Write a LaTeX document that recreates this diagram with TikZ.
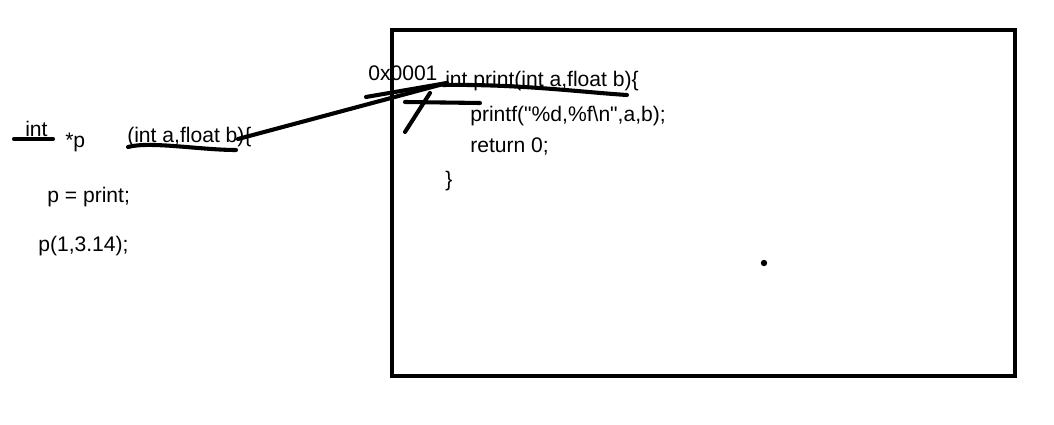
\documentclass[tikz,border=0pt]{standalone}
\usepackage{fontspec}
\setmainfont{Liberation Sans}[Ligatures=TeXOff]
\usepackage{tikz}
\usetikzlibrary{positioning,calc}
\tikzset{
  code/.style={anchor=base west, inner sep=0pt, font=\fontsize{15}{17}\selectfont},
  pen/.style={line width=2.9pt, line cap=round, line join=round, black},
  fnbox/.style={line width=2.9pt, black},
}

\begin{document}
\begin{tikzpicture}[x=0.025cm, y=-0.025cm]
\useasboundingbox (0,0) rectangle (1054,425);

% left side: the pointer declaration
\node[code] (intkw) at (25,137) {int};
\node[code] (ptr) at (65,148) {*p};
\node[code] (params) at (127,143) {(int a,float b)\{};
\node[code] (assign) at (47,203) {p = print;};
\node[code] (call) at (38,252) {p(1,3.14);};

% the function in memory
\draw[fnbox] (392,30) rectangle (1015,376);
\node[code] (addr) at (368,81) {0x0001};
\node[code] (header) at (445,87) {int print(int a,float b)\{};
\node[code] (body1) at (470,122) {printf(\symbol{34}\%d,\%f\textbackslash n\symbol{34},a,b);};
\node[code] (body2) at (470,153) {return 0;};
\node[code] (brace) at (445,187) {\}};
\fill (764,263) circle (3.2);

% hand strokes
\draw[pen] (14,139) -- (53,139);
\draw[pen] (128,147) .. controls (150,141) and (200,150) .. (236,150);
\coordinate (pstart) at (238,139);
\coordinate (hstart) at (447,83);
\draw[pen] (pstart) -- (hstart);
\draw[pen] (366,97) -- (447,83);
\draw[pen] (443,85) .. controls (520,84) and (580,92) .. (627,95);
\draw[pen] (405,102) -- (480,103);
\draw[pen] (405,132) -- (430,93);

\end{tikzpicture}
\end{document}
